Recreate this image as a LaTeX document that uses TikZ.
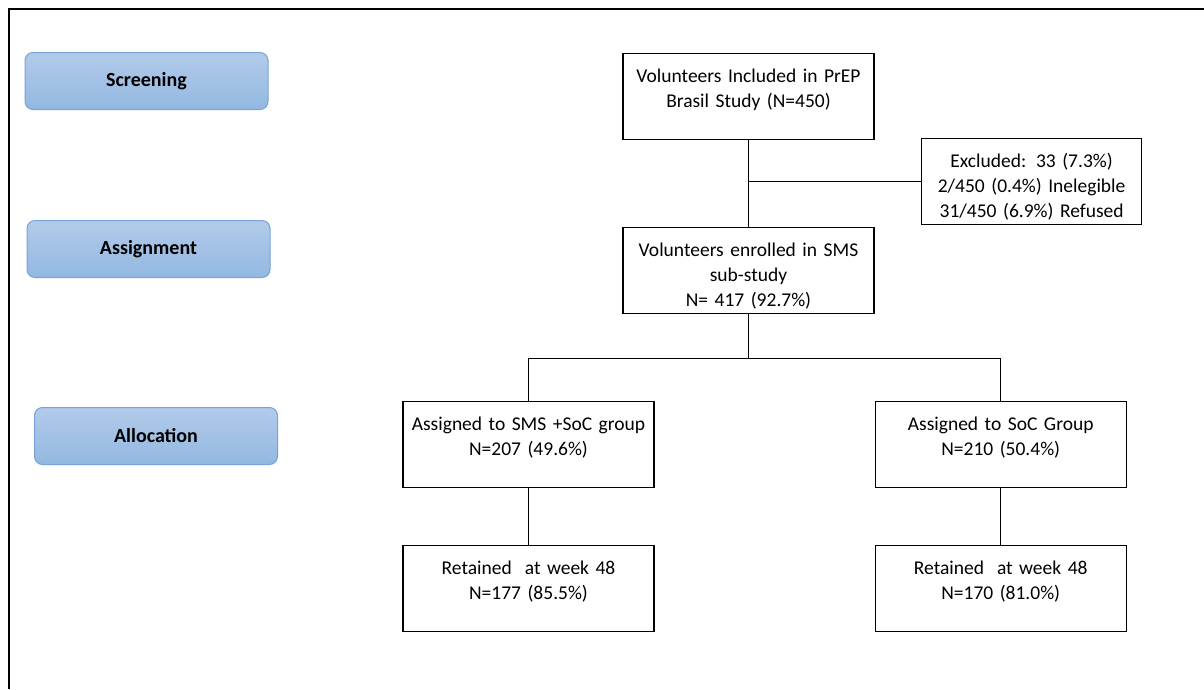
\documentclass[tikz,border=0pt]{standalone}
\usepackage{fontspec}
\setmainfont{Carlito}
\usetikzlibrary{positioning}
\definecolor{phasetop}{RGB}{178,203,234}
\definecolor{phasebot}{RGB}{147,184,225}
\definecolor{phaseline}{RGB}{120,163,215}
\begin{document}
\begin{tikzpicture}[x=1pt,y=-1pt]

    \tikzset{
      phase/.style={
        rounded corners=8pt,
        draw=phaseline,
        line width=1pt,
        top color=phasetop,
        bottom color=phasebot,
        minimum width=243pt,
        minimum height=57pt,
        inner sep=0pt,
        font=\fontsize{20}{24}\selectfont\bfseries,
      },
      flowbox/.style={
        draw,
        line width=1.2pt,
        inner sep=0pt,
        text width=#1,
        align=center,
        text height=29pt,
        text depth=57pt,
        font=\fontsize{19.5}{25}\selectfont,
      },
      flowbox/.default=251pt,
      link/.style={line width=1.3pt},
    }
    \useasboundingbox (0,0) rectangle (1204,689);
    \draw[line width=2pt] (9,689)--(9,9)--(1204,9);

    % phase labels
    \node[phase] (screening) at (146.5,81) {Screening};
    \node[phase] (assignment) at (148.5,249) {Assignment};
    \node[phase] (allocation) at (156,436) {Allocation};

    % flow
    \node[flowbox, anchor=north] (included) at (748.5,53) {Volunteers Included in PrEP\\Brasil Study (N=450)};
    \node[flowbox=220pt, anchor=north west] (excluded) at (921,138) {Excluded: 33 (7.3\%)\\2/450 (0.4\%) Inelegible\\31/450 (6.9\%) Refused};
    \node[flowbox, anchor=north] (enrolled) at (748.5,227) {Volunteers enrolled in SMS\\sub-study\\N= 417 (92.7\%)};
    \node[flowbox, anchor=north] (smsgroup) at (528.5,401) {Assigned to SMS +SoC group\\N=207 (49.6\%)};
    \node[flowbox, right=220pt of smsgroup] (socgroup) {Assigned to SoC Group\\N=210 (50.4\%)};
    \node[flowbox, below=57pt of smsgroup] (smsweek) {Retained\ \ at week 48\\N=177 (85.5\%)};
    \node[flowbox, below=57pt of socgroup] (socweek) {Retained\ \ at week 48\\N=170 (81.0\%)};

    \draw[link] (included) -- (enrolled);
    \draw[link] (included.south |- excluded.west) -- (excluded.west);
    \coordinate (split) at ([yshift=-44pt]enrolled.south);
    \draw[link] (enrolled) -- (split);
    \draw[link] (smsgroup.north) |- (split) -| (socgroup.north);
    \draw[link] (smsgroup) -- (smsweek);
    \draw[link] (socgroup) -- (socweek);

\end{tikzpicture}
\end{document}
